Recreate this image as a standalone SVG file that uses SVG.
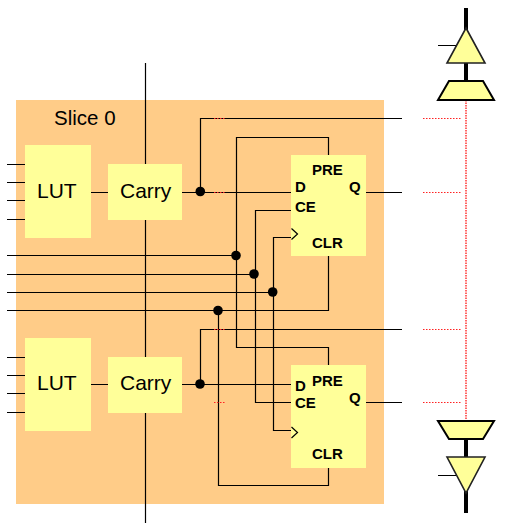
<svg xmlns="http://www.w3.org/2000/svg" width="507" height="527" viewBox="0 0 507 527">
<style>
.b{fill:#ffff99}
.w{fill:none;stroke:#000;stroke-width:1.2}
.t{fill:none;stroke:#000;stroke-width:4}
.r{fill:none;stroke:#ff2222;stroke-width:1.2;stroke-dasharray:1.5 1.5}
.v{fill:none;stroke:#ff6666;stroke-width:2;stroke-dasharray:1.5 1}
.pad{fill:#ffff99;stroke:#000;stroke-width:2}
.tri{fill:#ffff99;stroke:#222;stroke-width:1.6}
text{font-family:"Liberation Sans",Arial,sans-serif;fill:#000}
.n{font-size:21px}
.p{font-size:15px;font-weight:bold}
circle{fill:#000}
</style>
<rect id="slice" x="16" y="100" width="368" height="404" fill="#ffcc88"/>
<g id="connectors">
<path class="w" d="M145.500 63V164M145.500 220V357M145.500 413V523"/>
<path class="w" d="M7 164.500H26M7 182.500H26M7 200.500H26M7 219.500H26M7 357.500H26M7 375.500H26M7 393.500H26M7 412.500H26"/>
<path class="w" d="M90 192.500H109M90 384.500H109"/>
<path class="w" d="M181 192.500H291M200.500 192.500V118.500H402M365 192.500H402"/>
<path class="w" d="M181 384.500H291M200.500 384.500V329.500H402M365 402.500H402"/>
<path class="w" d="M328.500 155V137.500H236.500V347.500H328.500V365"/>
<path class="w" d="M291 210.500H255.500V402.500H291"/>
<path class="w" d="M291 237.500H273.500V430.500H291"/>
<path class="w" d="M7 255.500H236.500M7 274.500H255.500M7 292.500H273.500"/>
<path class="w" d="M7 310.500H328.500V256M218.500 310.500V485.500H328.500V468"/>
<path class="r" d="M214 118.500H225M214 192.500H225M214 329.500H225M214 402.500H225"/>
<path class="r" d="M423 118.500H461M423 192.500H461M423 329.500H461M423 402.500H461"/>
<path class="v" d="M466 100V420"/>
<path class="t" d="M466 8V30M466 63V81M466 439V457M466 491V513"/>
<path class="w" d="M438 45.500H456M438 475.500H456"/>
<circle cx="200.300" cy="191.500" r="4.800"/>
<circle cx="236" cy="255.500" r="4.800"/>
<circle cx="254" cy="274" r="4.800"/>
<circle cx="272.700" cy="292" r="4.800"/>
<circle cx="218" cy="310.500" r="4.800"/>
<circle cx="200" cy="384" r="4.800"/>
</g>
<text x="54" y="125" font-size="20.500">Slice 0</text>
<g id="lut1"><rect class="b" x="25" y="145" width="66" height="93"/><text class="n" x="37" y="198">LUT</text></g>
<g id="carry1"><rect class="b" x="108" y="164" width="74" height="56"/><text class="n" x="120" y="198">Carry</text></g>
<g id="lut2"><rect class="b" x="25" y="338" width="66" height="93"/><text class="n" x="37" y="390">LUT</text></g>
<g id="carry2"><rect class="b" x="108" y="357" width="74" height="56"/><text class="n" x="120" y="390">Carry</text></g>
<g id="ff1"><rect class="b" x="291" y="155" width="75" height="101"/>
<path class="w" d="M291.500 228.500L297.500 234L291.500 239.500"/>
<text class="p" x="312" y="175">PRE</text><text class="p" x="295" y="192">D</text><text class="p" x="349" y="192">Q</text><text class="p" x="295" y="212">CE</text><text class="p" x="312" y="248">CLR</text></g>
<g id="ff2"><rect class="b" x="291" y="365" width="75" height="103"/>
<path class="w" d="M291.500 427L297.500 432.500L291.500 438"/>
<text class="p" x="312" y="386">PRE</text><text class="p" x="295" y="391">D</text><text class="p" x="349" y="403">Q</text><text class="p" x="295" y="408">CE</text><text class="p" x="312" y="459">CLR</text></g>
<g id="pad-top"><polygon class="tri" points="466,28 485,63 447,63"/><polygon class="pad" points="449,81 483,81 494,100 438,100"/></g>
<g id="pad-bottom"><polygon class="pad" points="438,421 494,421 483,439 449,439"/><polygon class="tri" points="447,457 485,457 466,493"/></g>
</svg>
